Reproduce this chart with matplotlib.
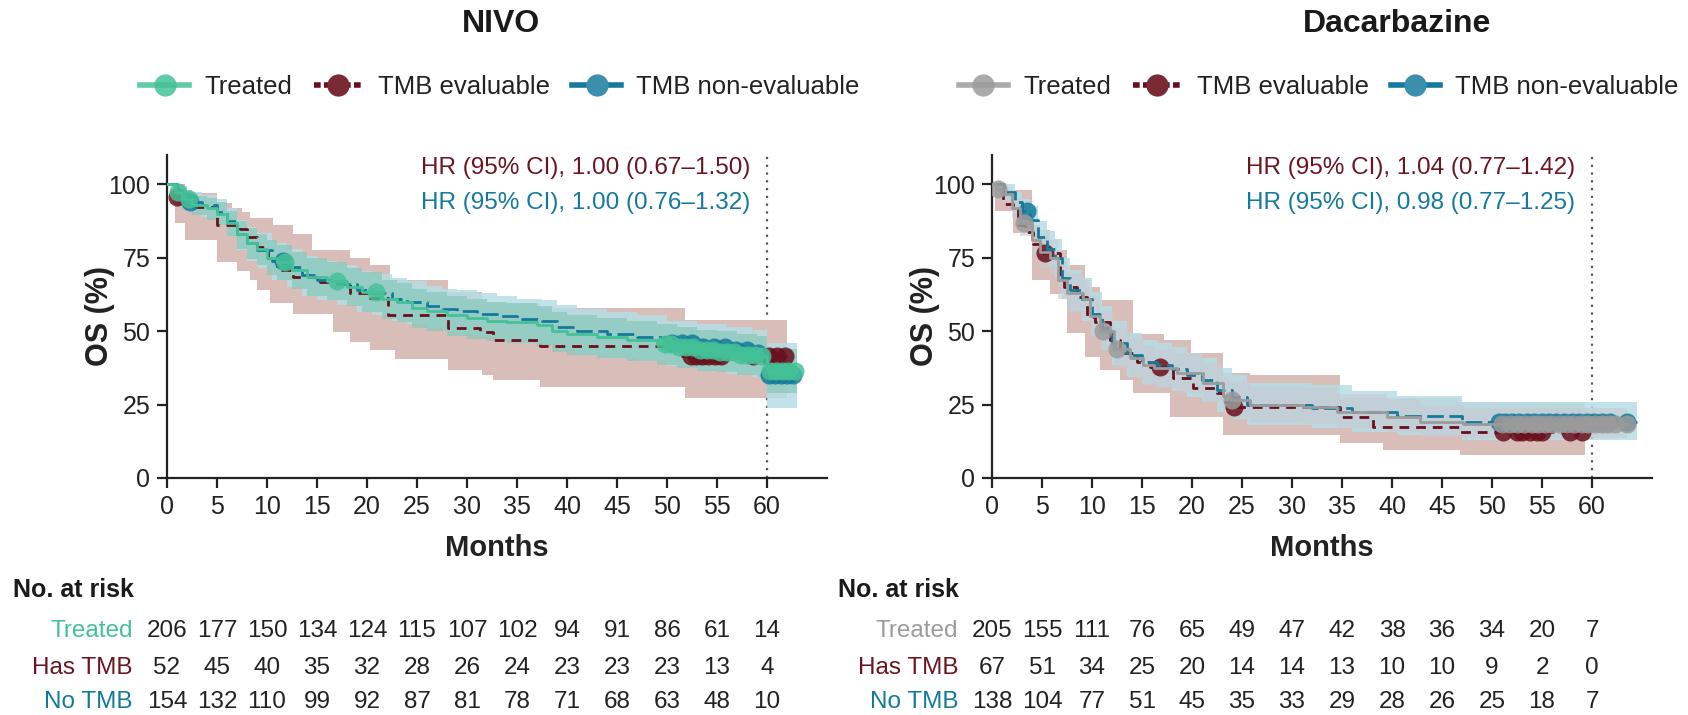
import numpy as np
import matplotlib
matplotlib.use("Agg")
import matplotlib.pyplot as plt
from matplotlib.lines import Line2D
from matplotlib.transforms import blended_transform_factory

plt.rcParams['font.family'] = ['Liberation Sans', 'DejaVu Sans']

GREEN = '#45c197'
GRAY = '#9b9b9b'
RED = '#6a0f1c'
BLUE = '#137a9c'

months_ticks = [0, 5, 10, 15, 20, 25, 30, 35, 40, 45, 50, 55, 60]

# ---------------- NIVO ----------------
nivo_trt_t = [0, 0.8, 1.5, 2.5, 4.0, 5.0, 6.0, 7.0, 8.0, 9.0, 10.0, 11.0, 12.5, 14.0, 16.0, 18.0, 19.5,
              21.5, 23.0, 24.5, 26.0, 28.0, 30.0, 32.0, 34.0, 37.0, 38.5, 40.0, 43.0, 46.0, 49.0, 51.0,
              53.0, 55.0, 57.0, 59.0, 60.0]
nivo_trt_s = [100, 97.5, 95, 93, 92, 90, 87, 83, 80, 78, 75, 73.5, 71, 68.5, 67, 65, 63.5, 61, 60, 58,
              57, 55.5, 54.5, 53.5, 53, 52, 50, 49, 48, 47, 45.5, 44.5, 43.5, 43, 42, 41.5, 36.5]
nivo_trt_lo = [100, 95, 92, 89.5, 88, 86, 82.5, 78, 74.5, 72.5, 69, 67.5, 64.5, 62, 60.5, 58.5, 56.5, 54,
               53, 51, 50, 48.5, 47.5, 46.5, 46, 45, 43, 42, 41, 40, 38.5, 37.5, 36.5, 36, 35, 34.5, 29]
nivo_trt_up = [100, 99.5, 98, 96, 95.5, 94, 91, 87.5, 85, 83, 81, 79.5, 77, 75, 73.5, 71.5, 70, 67.5,
               66.5, 64.5, 63.5, 62, 61, 60, 59.5, 58.5, 56.5, 55.5, 54.5, 53.5, 52.5, 51.5, 50.5, 50,
               49, 48.5, 44]
nivo_trt_end = 63.0
nivo_trt_cens = [1.1, 2.2, 11.8, 17.0, 20.9, 49.8, 50.4, 51.2, 51.9, 52.6, 53.3, 54.0, 54.6, 55.3, 56.0,
                 56.7, 57.4, 58.1, 58.8, 59.5, 60.3, 60.9, 61.5, 62.1, 62.8]

nivo_tmb_t = [0, 0.8, 2.9, 5.0, 7.3, 8.0, 9.0, 10.1, 11.0, 12.6, 15.3, 18.3, 20.3, 22.1, 28.1, 31.3,
              32.6, 37.3, 51.5]
nivo_tmb_s = [100, 95.7, 92.3, 86, 84.7, 82, 78.7, 74.8, 70.7, 68.5, 66.8, 62.9, 61.2, 55.4, 51, 49.8,
              47, 44.9, 41.5]
nivo_tmb_end = 62.0
nivo_tmb_band_t = [0, 0.8, 1.8, 5.0, 6.5, 7.0, 7.5, 8.3, 9.0, 10.3, 10.6, 12.6, 14.5, 16.6, 18.3,
                   20.3, 22.3, 22.8, 28.1, 31.5, 32.6, 37.3, 51.8]
nivo_tmb_lo = [100, 87, 81, 73.5, 73.5, 70.5, 70.5, 67.3, 64, 59.5, 59.5, 56, 56, 49.8, 46.4,
               43.5, 43.5, 40.5, 36.7, 35, 33.3, 31, 27.2]
nivo_tmb_up = [100, 100, 97, 93.5, 91.8, 91.8, 90.6, 88.4, 88.4, 88.4, 86, 83, 77.6, 77.6, 74.8,
               72.4, 67.3, 67.3, 63.4, 59.5, 59.5, 57.8, 53.7]
nivo_tmb_cens = [1.0, 52.4, 52.9, 53.5, 54.1, 54.8, 55.4, 58.6, 60.2, 61.0, 61.8]

nivo_non_t = [0, 1.0, 2.0, 3.5, 5.0, 6.0, 7.0, 8.0, 9.0, 10.5, 12.0, 13.5, 15.0, 17.0, 19.0, 20.5, 22.5,
              24.0, 26.0, 27.5, 29.0, 31.0, 33.0, 35.0, 37.5, 39.0, 41.0, 44.0, 47.0, 50.0, 53.0, 56.0,
              58.5, 60.0]
nivo_non_s = [100, 97, 94, 93, 90.5, 87.5, 83, 80, 77.5, 74, 72, 69, 67.5, 66, 64, 63, 61, 60, 58.5,
              57.5, 57, 56, 55, 54, 53.5, 51.5, 50, 49, 48, 46, 44.5, 43.5, 42.5, 35]
nivo_non_lo = [100, 94, 90.5, 89, 86, 82.5, 77.5, 74, 71.5, 67.5, 65, 62, 60.5, 59, 56.5, 55.5, 53.5,
               52.5, 51, 50, 49, 48, 47, 46, 45.5, 43.5, 42, 41, 40, 38, 36.5, 35.5, 34.5, 24]
nivo_non_up = [100, 99.5, 97.5, 96.5, 95, 92, 88, 85.5, 83.5, 80, 78, 75.5, 74, 72.5, 70.5, 69.5, 68,
               67, 65.5, 64.5, 64, 63, 62, 61, 60.5, 59, 57.5, 56.5, 55.5, 53.5, 52.5, 51.5, 50.5, 46]
nivo_non_end = 63.0
nivo_non_cens = [2.3, 11.6, 50.5, 51.5, 52.5, 53.6, 54.7, 55.8, 56.9, 58.0, 59.1, 60.2, 60.8, 61.4,
                 62.0, 62.6]

# ---------------- Dacarbazine ----------------
dac_trt_t = [0, 0.4, 1.0, 2.0, 2.8, 4.0, 4.8, 5.8, 6.6, 7.5, 9.1, 9.8, 10.8, 12.2, 13.8, 15.1, 16.2,
             18.5, 21.1, 23.1, 23.8, 25.8, 31.1, 34.5, 39.5, 42.8, 47.1]
dac_trt_s = [100, 98.5, 96.8, 92, 87, 81, 77, 75, 67.5, 63, 61, 55, 50, 44, 40.7, 38.4, 37.3, 35.7,
             32.3, 28, 26.5, 24.8, 24.3, 22.5, 20.9, 19.2, 18.5]
dac_trt_lo = [100, 96.5, 94, 88.5, 82.5, 76, 71.5, 69, 61, 56.5, 54.5, 48, 43.5, 37.5, 34, 31.5, 30.5,
              29, 26, 22, 20.5, 19, 18.5, 17, 15.5, 14, 13.5]
dac_trt_up = [100, 100, 99, 95.5, 91.5, 86, 82.5, 81, 74, 69.5, 67.5, 62, 57, 51, 47.5, 45, 44, 42.5,
              39, 34.5, 33, 31, 30.5, 28.5, 27, 25, 24]
dac_trt_end = 63.5
dac_trt_cens = [0.6, 3.2, 11.1, 12.5, 24.0, 51.0, 51.8, 52.5, 53.2, 54.0, 54.6, 55.3, 56.0, 56.8, 57.5,
                58.2, 59.0, 59.6, 60.3, 61.0, 61.6, 62.3, 63.5]

dac_tmb_t = [0, 1.1, 2.1, 2.6, 3.3, 4.1, 5.1, 6.8, 7.2, 8.5, 9.5, 10.3, 11.8, 12.8, 14.5, 15.8, 18.1,
             20.1, 22.5, 23.1, 24.1, 34.8, 38.1, 46.8]
dac_tmb_s = [100, 93.4, 91.7, 86, 83.8, 79.8, 76.5, 67.3, 65, 61.7, 54.9, 53.2, 47, 42.5, 39.6, 37.9,
             33.9, 30.5, 28.8, 25.9, 24.3, 20.9, 17.5, 15.8]
dac_tmb_end = 59.3
dac_tmb_band_t = [0, 0.3, 2.1, 4.0, 5.8, 7.5, 9.3, 10.8, 12.8, 14.1, 17.2, 17.8, 19.9, 23.1, 25.8, 34.8,
                  39.1, 46.8]
dac_tmb_lo = [100, 91, 83.3, 67.3, 62.8, 49.3, 41.3, 36.7, 33.3, 28.8, 28.8, 20.9, 20.9, 14.6, 14.6,
              11.8, 9.5, 7.8]
dac_tmb_up = [100, 98, 98, 84.4, 77.6, 72.4, 65, 60.5, 60.5, 49.2, 47, 47, 42.5, 35.6, 35, 27.1, 27.1, 26]
dac_tmb_cens = [5.3, 16.8, 24.2, 51.1, 52.5, 53.0, 53.8, 54.5, 55.0, 57.8, 59.0]

dac_non_t = [0, 1.2, 2.3, 3.0, 3.8, 4.6, 5.5, 6.3, 7.0, 7.8, 9.0, 10.0, 11.0, 12.0, 13.5, 15.0, 16.5,
             18.0, 19.5, 21.0, 22.5, 24.0, 25.5, 32.0, 36.0, 40.5, 47.0]
dac_non_s = [100, 97.5, 94, 91, 88, 82, 78, 75, 68, 64, 61, 56, 51, 46, 42, 39.5, 38.5, 37, 35, 33.5,
             30, 27.5, 25, 24, 22.5, 21, 19]
dac_non_lo = [100, 94.5, 90, 86.5, 83, 76.5, 72, 68.5, 61, 57, 53.5, 48.5, 43.5, 38.5, 34.5, 32, 31,
              29.5, 27.5, 26, 22.5, 20, 18, 17, 15.5, 14.5, 13]
dac_non_up = [100, 100, 97.5, 95, 92.5, 87.5, 84, 81.5, 75, 71, 68, 63.5, 58.5, 53.5, 49.5, 47, 46,
              44.5, 42.5, 41, 37.5, 35, 32.5, 31.5, 29.5, 28, 26]
dac_non_end = 64.5
dac_non_cens = [3.5, 50.7, 51.3, 52.0, 52.7, 53.5, 54.2, 55.0, 55.7, 56.4, 57.2, 58.0, 58.7, 59.5,
                60.2, 61.0, 61.8, 63.5]

# ---------------- numbers at risk ----------------
nivo_risk_trt = [206, 177, 150, 134, 124, 115, 107, 102, 94, 91, 86, 61, 14]
nivo_risk_tmb = [52, 45, 40, 35, 32, 28, 26, 24, 23, 23, 23, 13, 4]
nivo_risk_non = [154, 132, 110, 99, 92, 87, 81, 78, 71, 68, 63, 48, 10]
dac_risk_trt = [205, 155, 111, 76, 65, 49, 47, 42, 38, 36, 34, 20, 7]
dac_risk_tmb = [67, 51, 34, 25, 20, 14, 14, 13, 10, 10, 9, 2, 0]
dac_risk_non = [138, 104, 77, 51, 45, 35, 33, 29, 28, 26, 25, 18, 7]

nivo_hr = ['HR (95% CI), 1.00 (0.67\u20131.50)', 'HR (95% CI), 1.00 (0.76\u20131.32)']
dac_hr = ['HR (95% CI), 1.04 (0.77\u20131.42)', 'HR (95% CI), 0.98 (0.77\u20131.25)']


def ext(t, v, end):
    return list(t) + [end], list(v) + [v[-1]]


def surv_at(t, s, c):
    i = np.searchsorted(t, c, side='right') - 1
    return s[i]


def km(ax, t, s, end, color, ls, cens, lw=2.0, z=3, malpha=0.85):
    tt, ss = ext(t, s, end)
    ax.step(tt, ss, where='post', color=color, lw=lw, linestyle=ls, zorder=z)
    ys = [surv_at(t, s, c) for c in cens]
    ax.plot(cens, ys, 'o', color=color, ms=13, alpha=malpha, mec='none', zorder=z + 0.5)


def band(ax, t, lo, up, end, color, alpha, z):
    tt, ll = ext(t, lo, end)
    _, uu = ext(t, up, end)
    ax.fill_between(tt, ll, uu, step='post', color=color, alpha=alpha, lw=0, zorder=z)


fig = plt.figure(figsize=(16.88, 7.15), dpi=100)
axL = fig.add_axes([0.0989, 0.3315, 0.391, 0.4517])
axR = fig.add_axes([0.5877, 0.3315, 0.391, 0.4517])

# NIVO panel
band(axL, nivo_tmb_band_t, nivo_tmb_lo, nivo_tmb_up, nivo_tmb_end, '#d9bdb9', 1.0, 1)
band(axL, nivo_non_t, nivo_non_lo, nivo_non_up, nivo_non_end, '#b6dde6', 0.85, 1.2)
band(axL, nivo_trt_t, nivo_trt_lo, nivo_trt_up, nivo_trt_end, '#86c9b9', 0.7, 1.4)
km(axL, nivo_tmb_t, nivo_tmb_s, nivo_tmb_end, RED, (0, (3.5, 2.5)), nivo_tmb_cens, z=3)
km(axL, nivo_non_t, nivo_non_s, nivo_non_end, BLUE, (0, (6, 2)), nivo_non_cens, z=4)
km(axL, nivo_trt_t, nivo_trt_s, nivo_trt_end, GREEN, '-', nivo_trt_cens, z=5)

# Dacarbazine panel
band(axR, dac_tmb_band_t, dac_tmb_lo, dac_tmb_up, dac_tmb_end, '#d9bdb9', 1.0, 1)
band(axR, dac_non_t, dac_non_lo, dac_non_up, dac_non_end, '#b6dde6', 0.85, 1.2)
band(axR, dac_trt_t, dac_trt_lo, dac_trt_up, dac_trt_end, '#c9c9d0', 0.6, 1.4)
km(axR, dac_tmb_t, dac_tmb_s, dac_tmb_end, RED, (0, (3.5, 2.5)), dac_tmb_cens, z=3)
km(axR, dac_non_t, dac_non_s, dac_non_end, BLUE, (0, (6, 2)), dac_non_cens, z=4)
km(axR, dac_trt_t, dac_trt_s, dac_trt_end, GRAY, '-', dac_trt_cens, z=5)

for ax, hr, trt_col, risks, title, tx, lx in [
        (axL, nivo_hr, GREEN, (nivo_risk_trt, nivo_risk_tmb, nivo_risk_non), 'NIVO', 0.297, 0.083),
        (axR, dac_hr, GRAY, (dac_risk_trt, dac_risk_tmb, dac_risk_non), 'Dacarbazine', 0.8276, 0.568)]:
    ax.set_xlim(0, 66)
    ax.set_ylim(0, 110)
    ax.set_xticks(months_ticks)
    ax.set_yticks([0, 25, 50, 75, 100])
    ax.spines['top'].set_visible(False)
    ax.spines['right'].set_visible(False)
    for sp in ('left', 'bottom'):
        ax.spines[sp].set_linewidth(1.6)
        ax.spines[sp].set_color('#222222')
    ax.tick_params(labelsize=18, length=7, width=1.6, color='#222222', labelcolor='#222222', pad=5)
    ax.axvline(60, color='#555555', ls=(0, (1, 2.5)), lw=1.6, zorder=0.5)
    ax.set_xlabel('Months', fontsize=21, fontweight='bold', color='#222222')
    ax.set_ylabel('OS (%)', fontsize=22, fontweight='bold', color='#222222')
    ax.xaxis.set_label_coords(0.5, -0.175)
    ax.yaxis.set_label_coords(-0.079, 0.5)
    ax.text(58.3, 105.5, hr[0], color='#6a1520', fontsize=17.5, ha='right', va='center')
    ax.text(58.3, 93.5, hr[1], color='#137a9c', fontsize=17.5, ha='right', va='center')

    fig.text(tx, 0.966, title, fontsize=23, fontweight='bold', ha='center', va='center',
             color='#1a1a1a')

    handles = [
        Line2D([], [], color=trt_col, lw=4, marker='o', ms=16, alpha=0.85, mec='none'),
        Line2D([], [], color=RED, lw=4, ls=(0, (1.2, 0.6)), marker='o', ms=16, mfc='#7a2a35',
               mec='none'),
        Line2D([], [], color=BLUE, lw=4, marker='o', ms=16, mfc='#3a90ac', mec='none'),
    ]
    fig.legend(handles, ['Treated', 'TMB evaluable', 'TMB non-evaluable'], loc='center left',
               bbox_to_anchor=(lx, 0.878), ncol=3, frameon=False, fontsize=18.5,
               handlelength=1.9, columnspacing=0.85, handletextpad=0.6, labelcolor='#222222',
               borderaxespad=0, borderpad=0)

    tr = blended_transform_factory(ax.transData, fig.transFigure)
    ax.text(-15.4, 0.175, 'No. at risk', transform=tr, fontsize=18,
            fontweight='bold', ha='left', va='center', color='#1a1a1a')
    row_y = [0.1175, 0.0657, 0.0182]
    row_lab = ['Treated', 'Has TMB', 'No TMB']
    row_col = [trt_col, '#6a1520', '#137a9c']
    for ry, lab, col, vals in zip(row_y, row_lab, row_col, risks):
        ax.text(-3.4, ry, lab, transform=tr, fontsize=17.5, ha='right', va='center', color=col)
        for m, v in zip(months_ticks, vals):
            ax.text(m, ry, str(v), transform=tr, fontsize=17.5, ha='center', va='center',
                    color='#222222')

fig.savefig('out.png', dpi=100)
